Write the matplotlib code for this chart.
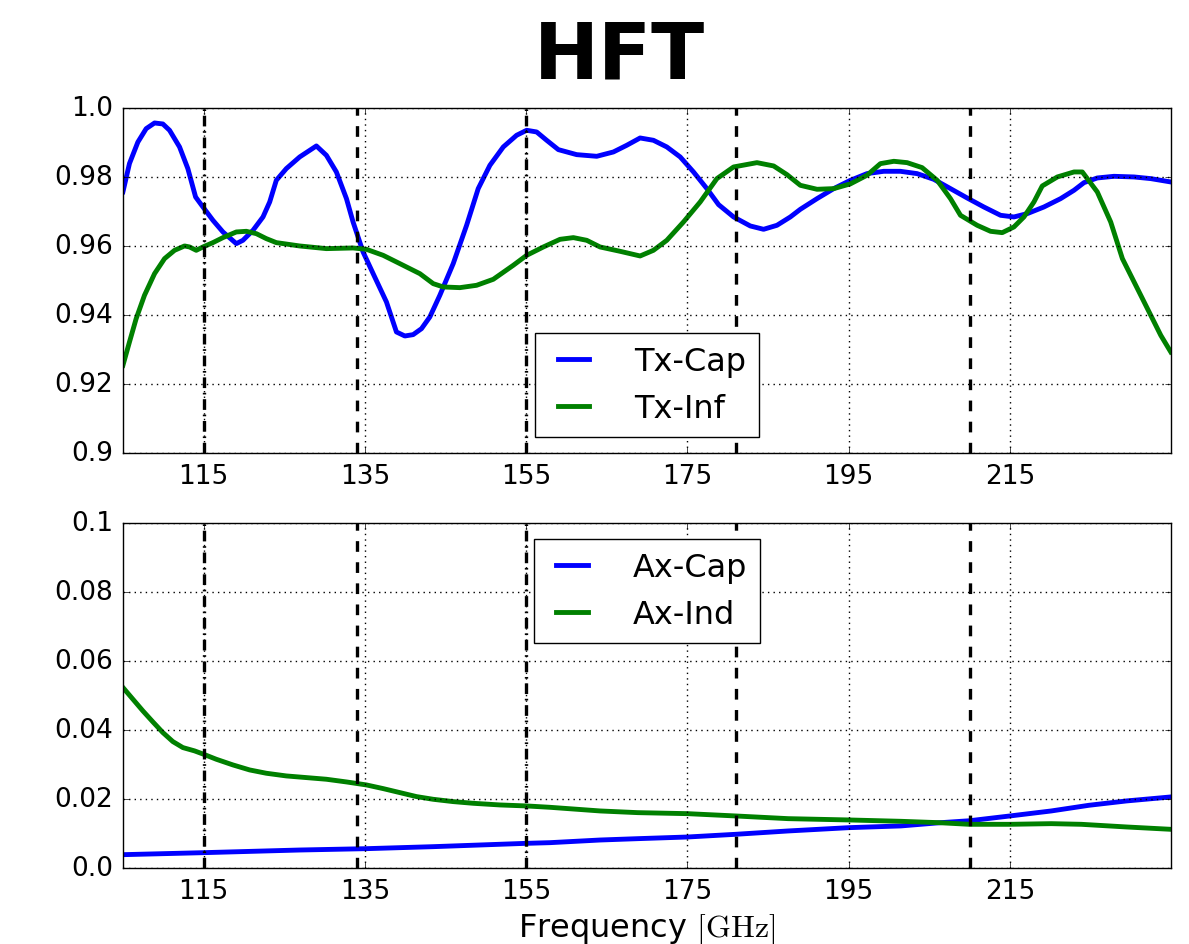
import matplotlib
matplotlib.use("Agg")
from matplotlib import pyplot as plt
from matplotlib.ticker import FuncFormatter


# Transmission, capacitive grid
tx_cap_freq = [105.0, 105.81, 106.85, 107.88, 108.92, 109.95, 110.78, 112.02, 113.05, 114.01,
               114.92, 116.16, 117.40, 119.06, 119.88, 121.13, 122.37, 123.20, 124.02, 125.26,
               126.92, 128.99, 130.23, 131.47, 132.72, 133.54, 134.78, 136.03, 137.68, 138.92,
               139.96, 140.99, 142.03, 143.06, 144.30, 145.96, 147.62, 149.06, 150.51, 152.17,
               153.82, 155.07, 156.31, 157.55, 159.0, 161.27, 163.76, 165.83, 167.48, 169.14,
               170.79, 172.45, 174.11, 175.76, 177.42, 178.87, 180.73, 182.80, 184.45, 186.11,
               187.77, 189.01, 191.08, 193.15, 195.22, 197.28, 199.35, 201.42, 203.49, 205.56,
               207.63, 209.70, 211.77, 213.84, 215.50, 217.15, 219.22, 221.29, 222.95, 224.19,
               225.84, 227.91, 230.40, 232.47, 234.95]
tx_cap = [0.9757, 0.9839, 0.9901, 0.9940, 0.99565, 0.99536, 0.99353, 0.9887, 0.98242, 0.9742,
          0.9713, 0.96744, 0.96406, 0.96068, 0.96164, 0.96454, 0.96841, 0.97275, 0.97903, 0.98242,
          0.9858, 0.98899, 0.98628, 0.98145, 0.97372, 0.96696, 0.95826, 0.95198, 0.94377, 0.93507,
          0.93391, 0.9343, 0.93604, 0.93942, 0.9457, 0.95488, 0.96599, 0.97662, 0.98338, 0.9887,
          0.99208, 0.99353, 0.99304, 0.99063, 0.98792, 0.98647, 0.98599, 0.98725, 0.98918, 0.9913,
          0.99063, 0.9887, 0.9858, 0.98145, 0.97662, 0.97198, 0.96841, 0.9658, 0.96483, 0.96599,
          0.96841, 0.97063, 0.97372, 0.97662, 0.97903, 0.98097, 0.98164, 0.98164, 0.98097, 0.97932,
          0.97662, 0.97391, 0.9713, 0.96889, 0.96841, 0.96937, 0.9713, 0.97372, 0.97614, 0.97836,
          0.97971, 0.98019, 0.98, 0.97952, 0.97855]

# Transmission, inductive grid
tx_inf_freq = [105.0, 105.81, 106.64, 107.67, 108.92, 110.16, 111.40, 112.64, 113.26, 114.09,
               114.92, 116.16, 117.40, 119.06, 120.30, 121.54, 122.78, 124.02, 126.92, 130.23,
               133.54, 135.20, 137.27, 139.34, 141.82, 143.48, 144.72, 146.79, 148.86, 150.93,
               153.41, 155.07, 157.14, 159.21, 160.86, 162.52, 164.17, 166.66, 169.14, 170.79,
               172.45, 174.52, 176.59, 178.66, 180.73, 183.63, 185.70, 187.35, 189.01, 191.08,
               193.15, 195.22, 197.28, 198.94, 200.60, 202.25, 204.11, 205.98, 207.63, 208.87,
               210.94, 212.60, 214.05, 215.50, 216.74, 217.98, 219.01, 220.88, 222.95, 223.98,
               225.84, 227.50, 228.95, 231.23, 233.71, 234.95]
tx_inf = [0.92541, 0.93217, 0.93894, 0.9457, 0.95198, 0.95633, 0.95874, 0.96, 0.95971, 0.95874,
          0.95971, 0.96097, 0.96242, 0.96406, 0.96425, 0.96357, 0.96213, 0.96097, 0.96, 0.95923,
          0.95942, 0.95903, 0.95729, 0.95488, 0.95198, 0.94908, 0.94812, 0.94792, 0.9486, 0.95034,
          0.9544, 0.95729, 0.95971, 0.96193, 0.96242, 0.96164, 0.95971, 0.95845, 0.9571, 0.95874,
          0.96164, 0.96696, 0.97275, 0.97952, 0.9829, 0.98415, 0.98319, 0.98068, 0.97758, 0.97643,
          0.97662, 0.97800, 0.98050, 0.98386, 0.98454, 0.98415, 0.98271, 0.97903, 0.97372, 0.96889,
          0.96599, 0.96425, 0.96386, 0.96551, 0.96841, 0.97275, 0.97739, 0.98, 0.98145, 0.98145,
          0.97565, 0.96696, 0.95633, 0.9457, 0.93411, 0.92928]

# Absorption, capacitive grid
ax_cap_freq = [105.0, 115.0, 126.92, 135.20, 143.48, 155.07, 157.96, 164.18, 168.85, 175.0,
               180.97, 187.49, 195.05, 201.48, 206.14, 209.97, 215.0, 220.13, 224.79, 229.45,
               234.95]
ax_cap = [0.00387, 0.00445, 0.00522, 0.00561, 0.00619, 0.00716, 0.00735, 0.00812, 0.00851, 0.00899,
          0.00977, 0.01074, 0.0117, 0.0122, 0.0131, 0.0137, 0.01509, 0.01654, 0.01818, 0.01944,
          0.0206]

# Absorption, inductive grid
ax_ind_freq = [105.0, 106.23, 107.47, 108.71, 109.95, 111.19, 112.43, 113.88, 115.0, 116.57,
               118.64, 120.71, 122.78, 125.26, 127.75, 130.23, 132.72, 135.20, 137.27, 139.34,
               141.41, 143.48, 145.96, 148.44, 151.75, 155.07, 157.96, 164.18, 168.85, 175.0,
               180.97, 187.49, 195.05, 201.48, 206.14, 209.97, 215.0, 220.13, 223.86, 229.45,
               234.95]
ax_ind = [0.05232, 0.04894, 0.04555, 0.04236, 0.03926, 0.03665, 0.03491, 0.03395, 0.03298, 0.03153,
          0.02988, 0.02843, 0.02747, 0.02669, 0.02621, 0.02573, 0.02495, 0.02408, 0.02302, 0.02186,
          0.0207, 0.01992, 0.01925, 0.01876, 0.01828, 0.01799, 0.0176, 0.01654, 0.01605, 0.01576,
          0.01509, 0.01431, 0.01393, 0.01354, 0.01315, 0.01267, 0.01267, 0.01286, 0.01267, 0.0119,
          0.01122]

# band markers
dashdot_lines = [115, 155]
dashed_lines = [134, 181, 210]

x_ticks = [115, 135, 155, 175, 195, 215]
top_yticks = [0.9, 0.92, 0.94, 0.96, 0.98, 1.0]
bot_yticks = [0.0, 0.02, 0.04, 0.06, 0.08, 0.1]

plt.style.use('classic')
plt.rcParams['figure.facecolor'] = 'white'
plt.rcParams['savefig.facecolor'] = 'white'
plt.rcParams['lines.scale_dashes'] = False


def fmt(v, pos):
    s = '%g' % v
    if '.' not in s:
        s += '.0'
    return s


fig = plt.figure(figsize=(11.89, 9.45), dpi=100)
ax1 = fig.add_axes([0.1034, 0.5196, 0.8816, 0.3651])
ax2 = fig.add_axes([0.1034, 0.0804, 0.8816, 0.3651])

fig.text(0.521, 0.940, 'HFT', fontsize=56, fontweight='bold', ha='center', va='center')

ax1.plot(tx_cap_freq, tx_cap, 'b-', lw=3.5, label='Tx-Cap')
ax1.plot(tx_inf_freq, tx_inf, 'g-', lw=3.5, label='Tx-Inf')
ax2.plot(ax_cap_freq, ax_cap, 'b-', lw=3.5, label='Ax-Cap')
ax2.plot(ax_ind_freq, ax_ind, 'g-', lw=3.5, label='Ax-Ind')

for ax, yt in [(ax1, top_yticks), (ax2, bot_yticks)]:
    for f in dashdot_lines:
        ax.axvline(f, color='k', lw=2.4, linestyle=(0, (7.7, 3.4, 1.2, 3.4)))
    for f in dashed_lines:
        ax.axvline(f, color='k', lw=2.4, linestyle=(0, (7.7, 7.5)))
    ax.set_xlim(105, 235)
    ax.set_ylim(yt[0], yt[-1])
    ax.set_xticks(x_ticks)
    ax.set_yticks(yt)
    ax.yaxis.set_major_formatter(FuncFormatter(fmt))
    ax.grid(True, color='k', linestyle=':', lw=1)
    ax.tick_params(labelsize=19, pad=7)

ax1.legend(loc='lower center', fontsize=23, handlelength=1.6, handletextpad=1.1)
ax2.legend(loc='upper center', fontsize=23, handlelength=1.6, handletextpad=1.1)

ax2.set_xlabel(r'Frequency $[\mathrm{GHz}]$', fontsize=23)

fig.savefig('out.png', dpi=100)
